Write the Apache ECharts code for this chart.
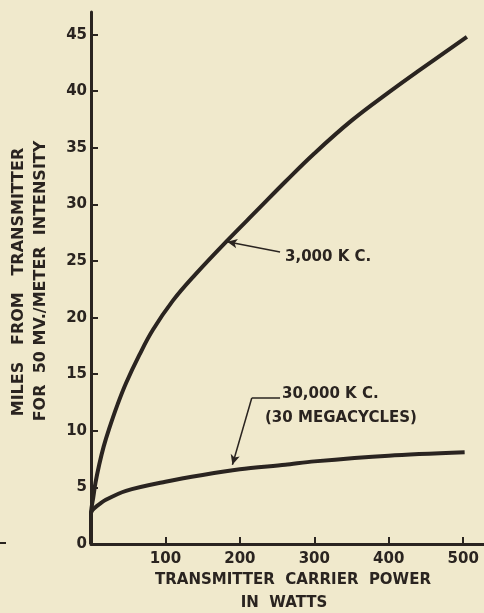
<!DOCTYPE html>
<html>
<head>
<meta charset="utf-8">
<script src="https://cdn.jsdelivr.net/npm/echarts@6/dist/echarts.min.js"></script>
<style>
html,body{margin:0;padding:0;background:#f0e9cc;}
#c{width:484px;height:613px;}
</style>
</head>
<body>
<div id="c"></div>
<script>
// ---- data (watts, miles) ----
const kc3000 = [[0,0],[0,2.7],[1,3.3],[3,4.1],[6,5.4],[11,7.0],[17,8.6],[24,10.1],[35,12.2],[47,14.2],[65,16.7],[83,18.9],[110,21.5],[140,23.8],[183,26.8],[225,29.6],[261,32.0],[300,34.5],[350,37.4],[400,39.9],[440,41.8],[505,44.8]];
const kc30000 = [[0,0],[0,2.7],[2,3.0],[7,3.3],[20,3.9],[47,4.7],[100,5.5],[150,6.1],[200,6.6],[261,7.0],[300,7.3],[400,7.8],[502,8.1]];
const xTicks = [100,200,300,400,500];
const yTicks = [0,5,10,15,20,25,30,35,40,45];
const label3000 = '3,000 K C.';
const label30000a = '30,000 K C.';
const label30000b = '(30 MEGACYCLES)';
const xTitle1 = 'TRANSMITTER  CARRIER  POWER';
const xTitle2 = 'IN  WATTS';
const yTitle1 = 'MILES   FROM   TRANSMITTER';
const yTitle2 = 'FOR  50 MV./METER  INTENSITY';
// annotation anchors (data units)
const arrow3000 = [[254,25.8],[183,26.7]];
const arrow30000 = [[254,12.9],[216,12.9],[190,7.0]];

const ink = '#2a2420';
const font = 'DejaVu Sans';

const chart = echarts.init(document.getElementById('c'), null, {renderer:'canvas'});
chart.setOption({
  backgroundColor: '#f0e9cc',
  animation: false,
  grid: {left: 91, right: 0, top: 12, bottom: 69},
  xAxis: {
    type: 'value', min: 0, max: 528,
    splitLine: {show: false},
    axisLine: {show: true, onZero: false, lineStyle: {color: ink, width: 3}},
    axisTick: {show: true, inside: true, length: 7, customValues: xTicks, lineStyle: {color: ink, width: 2}},
    axisLabel: {customValues: xTicks, margin: 8, color: ink, fontFamily: font, fontWeight: 'bold', fontSize: 15}
  },
  yAxis: {
    type: 'value', min: 0, max: 47,
    splitLine: {show: false},
    axisLine: {show: true, onZero: false, lineStyle: {color: ink, width: 3}},
    axisTick: {show: true, inside: true, length: 7, customValues: yTicks, lineStyle: {color: ink, width: 2}},
    axisLabel: {customValues: yTicks, margin: 4, color: ink, fontFamily: font, fontWeight: 'bold', fontSize: 15}
  },
  series: [
    {
      type: 'line', data: kc3000, smooth: 0.4, showSymbol: false,
      lineStyle: {color: ink, width: 4}, z: 3,
      markLine: {
        silent: true, animation: false, symbolSize: [7, 10],
        label: {show: false},
        lineStyle: {color: ink, width: 1.5, type: 'solid'},
        data: [[{coord: arrow3000[0], symbol: 'none'}, {coord: arrow3000[1], symbol: 'arrow'}]]
      }
    },
    {
      type: 'line', data: kc30000, smooth: 0.3, showSymbol: false,
      lineStyle: {color: ink, width: 4}, z: 3,
      markLine: {
        silent: true, animation: false, symbolSize: [7, 10],
        label: {show: false},
        lineStyle: {color: ink, width: 1.5, type: 'solid'},
        data: [
          [{coord: arrow30000[0], symbol: 'none'}, {coord: arrow30000[1], symbol: 'none'}],
          [{coord: arrow30000[1], symbol: 'none'}, {coord: arrow30000[2], symbol: 'arrow'}]
        ]
      }
    }
  ],
  graphic: [
    {type: 'text', left: 285, top: 250, style: {text: label3000, fill: ink, font: 'bold 15px "DejaVu Sans"'}},
    {type: 'text', left: 282, top: 387, style: {text: label30000a, fill: ink, font: 'bold 15px "DejaVu Sans"'}},
    {type: 'text', left: 265, top: 411, style: {text: label30000b, fill: ink, font: 'bold 15px "DejaVu Sans"'}},
    {type: 'text', x: 293, y: 580, style: {text: xTitle1, fill: ink, font: 'bold 15px "DejaVu Sans"', align: 'center', verticalAlign: 'middle'}},
    {type: 'text', x: 284, y: 603, style: {text: xTitle2, fill: ink, font: 'bold 15px "DejaVu Sans"', align: 'center', verticalAlign: 'middle'}},
    {type: 'text', x: 19, y: 282, rotation: Math.PI/2, style: {text: yTitle1, fill: ink, font: 'bold 16px "DejaVu Sans"', align: 'center', verticalAlign: 'middle'}},
    {type: 'text', x: 41, y: 281, rotation: Math.PI/2, style: {text: yTitle2, fill: ink, font: 'bold 16px "DejaVu Sans"', align: 'center', verticalAlign: 'middle'}},
    {type: 'rect', shape: {x: 0, y: 542, width: 6, height: 2}, style: {fill: ink}}
  ]
});
</script>
</body>
</html>
